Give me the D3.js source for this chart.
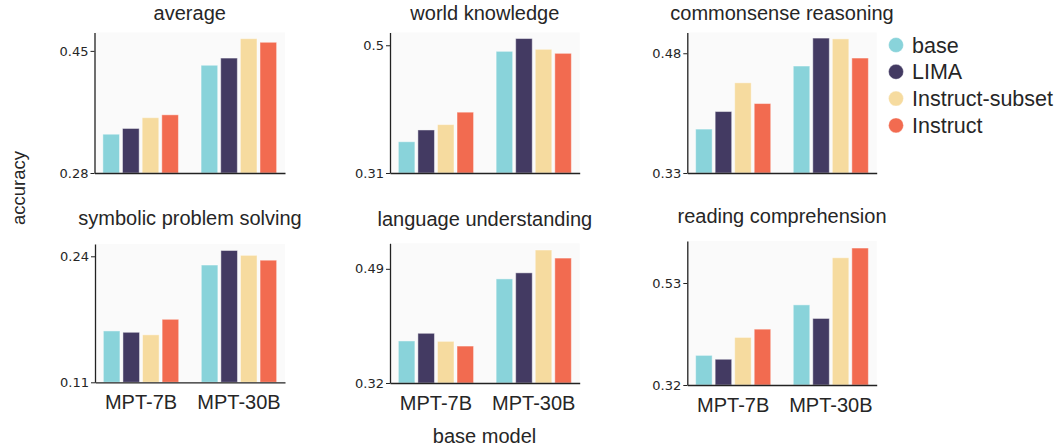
<!DOCTYPE html>
<html>
<head>
<meta charset="utf-8">
<script src="https://cdn.jsdelivr.net/npm/d3@7"></script>
<style>
  html, body { margin: 0; padding: 0; background: #fff; }
  svg { display: block; }
  text { fill: #262626; }
</style>
</head>
<body>
<svg id="chart" width="1063" height="448"></svg>
<script>
// ---- data ----
const tasks = ["average", "world knowledge", "commonsense reasoning",
               "symbolic problem solving", "language understanding", "reading comprehension"];
const categories = ["MPT-7B", "MPT-30B"];
const seriesNames = ["base", "LIMA", "Instruct-subset", "Instruct"];
const seriesColors = ["#89d3da", "#433a62", "#f6db9f", "#f26b50"];

// values: [series][category]
const average        = [[0.334, 0.430], [0.342, 0.440], [0.357, 0.467], [0.361, 0.462]];
const worldKnowledge = [[0.3565, 0.491], [0.374, 0.510], [0.382, 0.494], [0.4005, 0.488]];
const commonsense    = [[0.385, 0.464], [0.407, 0.499], [0.443, 0.498], [0.417, 0.474]];
const symbolic       = [[0.163, 0.231], [0.1616, 0.246], [0.159, 0.241], [0.175, 0.236]];
const language       = [[0.3826, 0.475], [0.394, 0.484], [0.382, 0.518], [0.375, 0.506]];
const reading        = [[0.381, 0.485], [0.373, 0.457], [0.418, 0.582], [0.435, 0.602]];

const yTicks = [[0.28, 0.45], [0.31, 0.5], [0.33, 0.48], [0.11, 0.24], [0.32, 0.49], [0.32, 0.53]];
const yMax   = [0.4756, 0.519, 0.506, 0.2527, 0.528, 0.6165];

const taskValues = [average, worldKnowledge, commonsense, symbolic, language, reading];

// ---- layout ----
const boxes = [
  {l: 94.5, t: 32.5, r: 285, b: 173},
  {l: 390,  t: 32.5, r: 579.7, b: 173},
  {l: 687.3, t: 32.5, r: 876.7, b: 173},
  {l: 95,   t: 244,  r: 285, b: 382.3},
  {l: 390,  t: 243.3, r: 579.7, b: 383},
  {l: 687.3, t: 241, r: 876.7, b: 385}
];
const titleY = [20, 20, 20, 225, 226, 223];

const svg = d3.select("#chart");
const titleFont = "'Liberation Sans', Arial, Helvetica, sans-serif";
const tickFont = "'DejaVu Sans', sans-serif";

tasks.forEach((task, i) => {
  const bx = boxes[i];
  const w = bx.r - bx.l, h = bx.b - bx.t;
  const g = svg.append("g").attr("transform", `translate(${bx.l},${bx.t})`);

  g.append("rect").attr("width", w).attr("height", h).attr("fill", "#fafafa");

  const x0 = d3.scaleBand().domain(categories).range([0, w])
    .paddingInner(0.2).paddingOuter(0.07);
  const x1 = d3.scaleBand().domain(seriesNames).range([0, x0.bandwidth()]);
  const y = d3.scaleLinear().domain([yTicks[i][0], yMax[i]]).range([h, 0]);

  const vals = taskValues[i];
  const rows = [];
  seriesNames.forEach((s, si) => {
    categories.forEach((c, ci) => rows.push({s, si, c, v: vals[si][ci]}));
  });

  g.selectAll("rect.bar").data(rows).enter().append("rect")
    .attr("class", "bar")
    .attr("x", d => x0(d.c) + x1(d.s) + 1.5)
    .attr("width", x1.bandwidth() - 3)
    .attr("y", d => y(d.v))
    .attr("height", d => h - y(d.v))
    .attr("fill", d => seriesColors[d.si])
    .attr("stroke", "#ffffff")
    .attr("stroke-opacity", 0.45)
    .attr("stroke-width", 1);

  // y axis
  const ya = g.append("g").call(
    d3.axisLeft(y).tickValues(yTicks[i]).tickFormat(d => String(d))
      .tickSize(4).tickSizeOuter(0).tickPadding(2));
  ya.select(".domain").attr("stroke", "#222").attr("stroke-width", 1.3);
  ya.selectAll(".tick line").attr("stroke", "#222").attr("stroke-width", 1);
  ya.selectAll("text").style("font-family", tickFont).style("font-size", "13px").attr("fill", "#262626");

  // x axis
  const xa = g.append("g").attr("transform", `translate(0,${h})`).call(
    d3.axisBottom(x0).tickSize(0).tickSizeOuter(0).tickPadding(12.5));
  xa.select(".domain").attr("stroke", "#222").attr("stroke-width", 1.3);
  if (i < 3) xa.selectAll(".tick text").remove();
  xa.selectAll("text").style("font-family", titleFont).style("font-size", "20px").attr("fill", "#262626");

  svg.append("text")
    .attr("x", bx.l + w / 2).attr("y", titleY[i])
    .attr("text-anchor", "middle")
    .style("font-family", titleFont).style("font-size", "20px")
    .text(task);
});

// axis titles
svg.append("text")
  .attr("transform", "translate(25,188) rotate(-90)")
  .attr("text-anchor", "middle")
  .style("font-family", titleFont).style("font-size", "18.5px")
  .text("accuracy");

svg.append("text")
  .attr("x", 484.5).attr("y", 443)
  .attr("text-anchor", "middle")
  .style("font-family", titleFont).style("font-size", "20px")
  .text("base model");

// legend
const legend = svg.append("g");
seriesNames.forEach((s, i) => {
  const cy = 45 + i * 26.8;
  legend.append("circle").attr("cx", 896).attr("cy", cy).attr("r", 7.5)
    .attr("fill", seriesColors[i]).attr("stroke", "#ffffff")
    .attr("stroke-opacity", 0.4).attr("stroke-width", 1);
  legend.append("text").attr("x", 912).attr("y", cy + 7.5)
    .style("font-family", titleFont).style("font-size", "21.5px")
    .text(s);
});
</script>
</body>
</html>
